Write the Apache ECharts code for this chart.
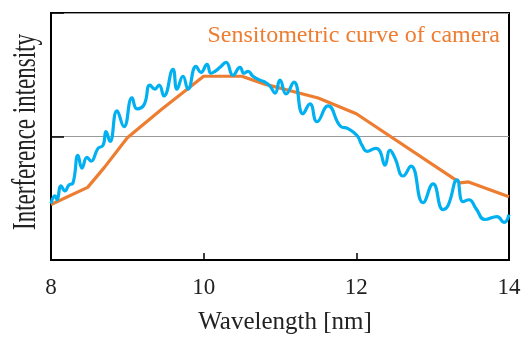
<!DOCTYPE html>
<html>
<head>
<meta charset="utf-8">
<script src="https://cdn.jsdelivr.net/npm/echarts@6/dist/echarts.min.js"></script>
<style>html,body{margin:0;padding:0;background:#fff}#c{width:527px;height:340px}</style>
</head>
<body>
<div id="c"></div>
<script>
// Measured interference intensity (blue) – [wavelength nm, relative intensity]
const measuredX = [8.0,8.052,8.079,8.131,8.183,8.236,8.288,8.354,8.406,8.472,8.524,8.616,8.681,8.721,8.773,8.865,8.956,9.061,9.127,9.218,9.297,9.362,9.415,9.480,9.598,9.651,9.729,9.795,9.900,9.965,10.044,10.096,10.149,10.214,10.293,10.384,10.476,10.529,10.581,10.646,10.738,10.804,10.869,10.935,11.000,11.079,11.183,11.301,11.393,11.485,11.629,11.799,11.891,12.009,12.075,12.140,12.258,12.310,12.376,12.441,12.507,12.612,12.716,12.874,13.005,13.136,13.201,13.319,13.398,13.476,13.568,13.686,13.843,13.935,14.0];
const measuredY = [22.8,26,24.4,30,28,30.4,31.2,42.4,37.2,41.6,40,45.2,46.4,52,48,60.4,54,65.6,61.2,62.8,70.8,69.2,70.8,66.4,77.2,69.2,74.4,69.2,78.4,76,79.2,75.6,76.4,78,80,74.8,78,75.6,76.4,74.4,72.8,72,70.4,67.6,72.8,67.2,72,59.2,63.2,56,62.4,54,53.2,50.4,46.4,44,45.2,44,38.4,44.4,41.2,34,38,23.2,30.8,20.4,22,32.4,23.6,24.4,20.8,16.4,17.6,15.2,18.4];
// Sensitometric curve of camera (orange)
const sensX = [8.0,8.48,8.7,9.0,9.45,10.0,10.5,10.8,11.5,12.0,13.36,13.47,14.0];
const sensY = [22.5,29.4,37.5,49.5,61,74.4,74.4,71.2,65.6,59.2,31.2,31.6,25.6];
const xTicks = [8,10,12,14];
const titleText = 'Sensitometric curve of camera';
const xName = 'Wavelength [nm]';
const yName = 'Interference intensity';

const serif = '"Liberation Serif","Times New Roman",serif';
const chart = echarts.init(document.getElementById('c'), null, {renderer:'canvas'});
chart.setOption({
  animation:false,
  backgroundColor:'#fff',
  title:{
    text:titleText, right:27, top:24, padding:0,
    textStyle:{color:'#ed7d31', fontFamily:serif, fontSize:24, fontWeight:'normal'}
  },
  grid:{left:51, right:18, top:13, bottom:77, show:true, borderColor:'#000', borderWidth:2, backgroundColor:'transparent'},
  xAxis:{
    type:'value', min:xTicks[0], max:xTicks[xTicks.length-1], interval:2,
    axisLine:{show:true, lineStyle:{color:'#000', width:2}},
    axisTick:{show:true, inside:true, length:7, lineStyle:{color:'#000', width:1.5}},
    axisLabel:{color:'#222', fontFamily:serif, fontSize:23, margin:16},
    splitLine:{show:false},
    name:xName, nameLocation:'middle', nameGap:50,
    nameTextStyle:{color:'#222', fontFamily:serif, fontSize:25, padding:[0,0,0,10]}
  },
  yAxis:{
    type:'value', min:0, max:100, interval:50,
    axisLine:{show:true, lineStyle:{color:'#000', width:2}},
    axisTick:{show:true, inside:true, length:13, lineStyle:{color:'#000', width:1.5}},
    axisLabel:{show:false},
    splitLine:{show:true, lineStyle:{color:'#999', width:1}}
  },
  graphic:[{
    type:'text', x:43, y:132, rotation:Math.PI/2, scaleY:1.45,
    style:{text:yName, font:'23px '+serif, fill:'#222', textAlign:'center', textVerticalAlign:'bottom', align:'center', verticalAlign:'bottom'}
  }],
  series:[
    {type:'line', data:sensX.map((x,i)=>[x,sensY[i]]), showSymbol:false, smooth:false,
     lineStyle:{color:'#ed7d31', width:3.2}, z:2},
    {type:'line', data:measuredX.map((x,i)=>[x,measuredY[i]]), showSymbol:false, smooth:0.5,
     lineStyle:{color:'#00b0f0', width:3.2}, z:3}
  ]
});
</script>
</body>
</html>
